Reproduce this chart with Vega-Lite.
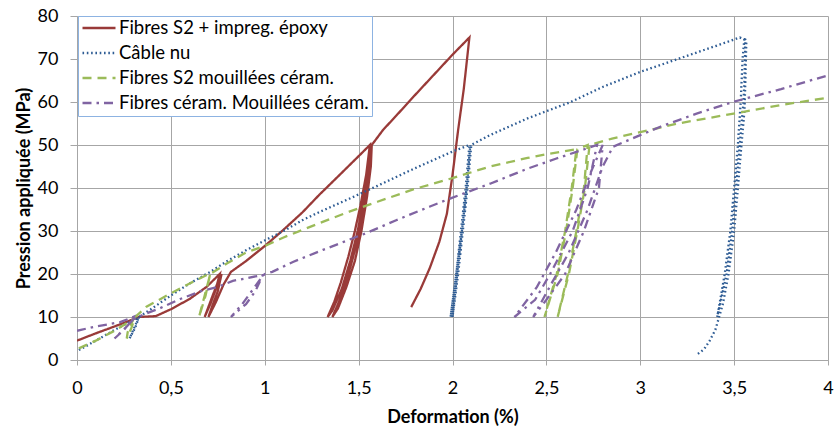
{
  "$schema": "https://vega.github.io/schema/vega-lite/v6.json",
  "width": 751,
  "height": 344,
  "autosize": {"type": "none"},
  "padding": {"left": 77, "top": 16, "right": 7, "bottom": 68},
  "background": "white",
  "config": {
    "font": "Lato",
    "view": {"stroke": null},
    "axis": {
      "labelFont": "Lato",
      "labelFontSize": 18,
      "labelColor": "#000000",
      "titleFont": "Lato",
      "titleFontSize": 18,
      "titleFontWeight": "bold",
      "titleColor": "#000000",
      "gridColor": "#a6a6a6",
      "gridWidth": 1,
      "domainColor": "#a6a6a6",
      "tickColor": "#a6a6a6"
    }
  },
  "data": {
    "values": [
      {"s":"Fibres S2 + impreg. époxy","i":1,"x":0,"y":4.5},
      {"s":"Fibres S2 + impreg. époxy","i":2,"x":0.1,"y":6.2},
      {"s":"Fibres S2 + impreg. époxy","i":3,"x":0.2,"y":7.8},
      {"s":"Fibres S2 + impreg. époxy","i":4,"x":0.33,"y":10},
      {"s":"Fibres S2 + impreg. époxy","i":5,"x":0.42,"y":10.2},
      {"s":"Fibres S2 + impreg. époxy","i":6,"x":0.5,"y":11.8},
      {"s":"Fibres S2 + impreg. époxy","i":7,"x":0.6,"y":14.2},
      {"s":"Fibres S2 + impreg. époxy","i":8,"x":0.69,"y":17},
      {"s":"Fibres S2 + impreg. époxy","i":9,"x":0.76,"y":20},
      {"s":"Fibres S2 + impreg. époxy","i":10,"x":0.74,"y":16.5},
      {"s":"Fibres S2 + impreg. époxy","i":11,"x":0.71,"y":13},
      {"s":"Fibres S2 + impreg. époxy","i":12,"x":0.68,"y":10},
      {"s":"Fibres S2 + impreg. époxy","i":13,"x":0.71,"y":13.5},
      {"s":"Fibres S2 + impreg. époxy","i":14,"x":0.74,"y":17},
      {"s":"Fibres S2 + impreg. époxy","i":15,"x":0.77,"y":20},
      {"s":"Fibres S2 + impreg. époxy","i":16,"x":0.75,"y":16},
      {"s":"Fibres S2 + impreg. époxy","i":17,"x":0.72,"y":12.5},
      {"s":"Fibres S2 + impreg. époxy","i":18,"x":0.7,"y":10},
      {"s":"Fibres S2 + impreg. époxy","i":19,"x":0.74,"y":13.5},
      {"s":"Fibres S2 + impreg. époxy","i":20,"x":0.78,"y":17.5},
      {"s":"Fibres S2 + impreg. époxy","i":21,"x":0.82,"y":20.5},
      {"s":"Fibres S2 + impreg. époxy","i":22,"x":0.9,"y":23},
      {"s":"Fibres S2 + impreg. époxy","i":23,"x":1.0,"y":26.5},
      {"s":"Fibres S2 + impreg. époxy","i":24,"x":1.1,"y":30.3},
      {"s":"Fibres S2 + impreg. époxy","i":25,"x":1.2,"y":34.3},
      {"s":"Fibres S2 + impreg. époxy","i":26,"x":1.29,"y":38.4},
      {"s":"Fibres S2 + impreg. époxy","i":27,"x":1.4,"y":43.1},
      {"s":"Fibres S2 + impreg. époxy","i":28,"x":1.5,"y":47.4},
      {"s":"Fibres S2 + impreg. époxy","i":29,"x":1.56,"y":50},
      {"s":"Fibres S2 + impreg. époxy","i":30,"x":1.54,"y":43},
      {"s":"Fibres S2 + impreg. époxy","i":31,"x":1.51,"y":36},
      {"s":"Fibres S2 + impreg. époxy","i":32,"x":1.48,"y":30},
      {"s":"Fibres S2 + impreg. époxy","i":33,"x":1.445,"y":24},
      {"s":"Fibres S2 + impreg. époxy","i":34,"x":1.405,"y":18},
      {"s":"Fibres S2 + impreg. époxy","i":35,"x":1.37,"y":13.5},
      {"s":"Fibres S2 + impreg. époxy","i":36,"x":1.335,"y":10},
      {"s":"Fibres S2 + impreg. époxy","i":37,"x":1.36,"y":11.5},
      {"s":"Fibres S2 + impreg. époxy","i":38,"x":1.41,"y":16.5},
      {"s":"Fibres S2 + impreg. époxy","i":39,"x":1.455,"y":23},
      {"s":"Fibres S2 + impreg. époxy","i":40,"x":1.495,"y":30},
      {"s":"Fibres S2 + impreg. époxy","i":41,"x":1.53,"y":38},
      {"s":"Fibres S2 + impreg. époxy","i":42,"x":1.555,"y":45},
      {"s":"Fibres S2 + impreg. époxy","i":43,"x":1.565,"y":50},
      {"s":"Fibres S2 + impreg. époxy","i":44,"x":1.555,"y":43},
      {"s":"Fibres S2 + impreg. époxy","i":45,"x":1.53,"y":36},
      {"s":"Fibres S2 + impreg. époxy","i":46,"x":1.5,"y":29},
      {"s":"Fibres S2 + impreg. époxy","i":47,"x":1.465,"y":23},
      {"s":"Fibres S2 + impreg. époxy","i":48,"x":1.425,"y":17},
      {"s":"Fibres S2 + impreg. époxy","i":49,"x":1.39,"y":13},
      {"s":"Fibres S2 + impreg. époxy","i":50,"x":1.36,"y":10},
      {"s":"Fibres S2 + impreg. époxy","i":51,"x":1.39,"y":12},
      {"s":"Fibres S2 + impreg. époxy","i":52,"x":1.435,"y":17},
      {"s":"Fibres S2 + impreg. époxy","i":53,"x":1.48,"y":23},
      {"s":"Fibres S2 + impreg. époxy","i":54,"x":1.515,"y":30},
      {"s":"Fibres S2 + impreg. époxy","i":55,"x":1.545,"y":38},
      {"s":"Fibres S2 + impreg. époxy","i":56,"x":1.565,"y":45},
      {"s":"Fibres S2 + impreg. époxy","i":57,"x":1.57,"y":50},
      {"s":"Fibres S2 + impreg. époxy","i":58,"x":1.63,"y":53.5},
      {"s":"Fibres S2 + impreg. époxy","i":59,"x":1.7,"y":56.8},
      {"s":"Fibres S2 + impreg. époxy","i":60,"x":1.8,"y":61.6},
      {"s":"Fibres S2 + impreg. époxy","i":61,"x":1.9,"y":66.3},
      {"s":"Fibres S2 + impreg. époxy","i":62,"x":2.0,"y":71},
      {"s":"Fibres S2 + impreg. époxy","i":63,"x":2.09,"y":75},
      {"s":"Fibres S2 + impreg. époxy","i":64,"x":2.075,"y":69},
      {"s":"Fibres S2 + impreg. époxy","i":65,"x":2.06,"y":63},
      {"s":"Fibres S2 + impreg. époxy","i":66,"x":2.03,"y":53.5},
      {"s":"Fibres S2 + impreg. époxy","i":67,"x":2.0,"y":43},
      {"s":"Fibres S2 + impreg. époxy","i":68,"x":1.97,"y":34},
      {"s":"Fibres S2 + impreg. époxy","i":69,"x":1.93,"y":27.5},
      {"s":"Fibres S2 + impreg. époxy","i":70,"x":1.88,"y":21.5},
      {"s":"Fibres S2 + impreg. époxy","i":71,"x":1.83,"y":16.5},
      {"s":"Fibres S2 + impreg. époxy","i":72,"x":1.78,"y":12.3},

      {"s":"Câble nu","i":1,"x":0.01,"y":2.3},
      {"s":"Câble nu","i":2,"x":0.1,"y":4.5},
      {"s":"Câble nu","i":3,"x":0.2,"y":7},
      {"s":"Câble nu","i":4,"x":0.33,"y":10},
      {"s":"Câble nu","i":5,"x":0.31,"y":7.5},
      {"s":"Câble nu","i":6,"x":0.28,"y":5},
      {"s":"Câble nu","i":7,"x":0.3,"y":7},
      {"s":"Câble nu","i":8,"x":0.33,"y":10},
      {"s":"Câble nu","i":9,"x":0.4,"y":12},
      {"s":"Câble nu","i":10,"x":0.5,"y":15},
      {"s":"Câble nu","i":11,"x":0.6,"y":17.8},
      {"s":"Câble nu","i":12,"x":0.71,"y":20.5},
      {"s":"Câble nu","i":13,"x":0.8,"y":23},
      {"s":"Câble nu","i":14,"x":0.9,"y":25.5},
      {"s":"Câble nu","i":15,"x":1.0,"y":27.8},
      {"s":"Câble nu","i":16,"x":1.1,"y":30},
      {"s":"Câble nu","i":17,"x":1.2,"y":32.5},
      {"s":"Câble nu","i":18,"x":1.3,"y":34.6},
      {"s":"Câble nu","i":19,"x":1.45,"y":37.5},
      {"s":"Câble nu","i":20,"x":1.6,"y":40.5},
      {"s":"Câble nu","i":21,"x":1.8,"y":44.6},
      {"s":"Câble nu","i":22,"x":1.99,"y":48.3},
      {"s":"Câble nu","i":23,"x":2.09,"y":50},
      {"s":"Câble nu","i":24,"x":2.07,"y":40},
      {"s":"Câble nu","i":25,"x":2.045,"y":30},
      {"s":"Câble nu","i":26,"x":2.02,"y":20},
      {"s":"Câble nu","i":27,"x":1.99,"y":10},
      {"s":"Câble nu","i":28,"x":2.02,"y":20},
      {"s":"Câble nu","i":29,"x":2.05,"y":30},
      {"s":"Câble nu","i":30,"x":2.075,"y":40},
      {"s":"Câble nu","i":31,"x":2.095,"y":50},
      {"s":"Câble nu","i":32,"x":2.075,"y":40},
      {"s":"Câble nu","i":33,"x":2.05,"y":30},
      {"s":"Câble nu","i":34,"x":2.025,"y":20},
      {"s":"Câble nu","i":35,"x":2.0,"y":10},
      {"s":"Câble nu","i":36,"x":2.03,"y":20},
      {"s":"Câble nu","i":37,"x":2.055,"y":30},
      {"s":"Câble nu","i":38,"x":2.08,"y":40},
      {"s":"Câble nu","i":39,"x":2.1,"y":50},
      {"s":"Câble nu","i":40,"x":2.2,"y":52.3},
      {"s":"Câble nu","i":41,"x":2.4,"y":56.2},
      {"s":"Câble nu","i":42,"x":2.63,"y":60},
      {"s":"Câble nu","i":43,"x":2.8,"y":63.5},
      {"s":"Câble nu","i":44,"x":3.0,"y":67},
      {"s":"Câble nu","i":45,"x":3.2,"y":70},
      {"s":"Câble nu","i":46,"x":3.4,"y":73},
      {"s":"Câble nu","i":47,"x":3.53,"y":75},
      {"s":"Câble nu","i":48,"x":3.56,"y":74.5},
      {"s":"Câble nu","i":49,"x":3.555,"y":65},
      {"s":"Câble nu","i":50,"x":3.55,"y":60},
      {"s":"Câble nu","i":51,"x":3.53,"y":50},
      {"s":"Câble nu","i":52,"x":3.51,"y":40},
      {"s":"Câble nu","i":53,"x":3.49,"y":30},
      {"s":"Câble nu","i":54,"x":3.46,"y":20},
      {"s":"Câble nu","i":55,"x":3.43,"y":14},
      {"s":"Câble nu","i":56,"x":3.41,"y":10},
      {"s":"Câble nu","i":57,"x":3.43,"y":15},
      {"s":"Câble nu","i":58,"x":3.45,"y":20},
      {"s":"Câble nu","i":59,"x":3.48,"y":30},
      {"s":"Câble nu","i":60,"x":3.5,"y":40},
      {"s":"Câble nu","i":61,"x":3.52,"y":50},
      {"s":"Câble nu","i":62,"x":3.535,"y":60},
      {"s":"Câble nu","i":63,"x":3.545,"y":70},
      {"s":"Câble nu","i":64,"x":3.555,"y":75},
      {"s":"Câble nu","i":65,"x":3.565,"y":74},
      {"s":"Câble nu","i":66,"x":3.56,"y":65},
      {"s":"Câble nu","i":67,"x":3.555,"y":58},
      {"s":"Câble nu","i":68,"x":3.535,"y":48},
      {"s":"Câble nu","i":69,"x":3.52,"y":40},
      {"s":"Câble nu","i":70,"x":3.5,"y":30},
      {"s":"Câble nu","i":71,"x":3.47,"y":20},
      {"s":"Câble nu","i":72,"x":3.44,"y":13},
      {"s":"Câble nu","i":73,"x":3.42,"y":10},
      {"s":"Câble nu","i":74,"x":3.4,"y":7},
      {"s":"Câble nu","i":75,"x":3.37,"y":4.5},
      {"s":"Câble nu","i":76,"x":3.34,"y":2.5},
      {"s":"Câble nu","i":77,"x":3.3,"y":1.2},

      {"s":"Fibres S2 mouillées céram.","i":1,"x":0.01,"y":2.7},
      {"s":"Fibres S2 mouillées céram.","i":2,"x":0.1,"y":4.5},
      {"s":"Fibres S2 mouillées céram.","i":3,"x":0.2,"y":6.8},
      {"s":"Fibres S2 mouillées céram.","i":4,"x":0.3,"y":9.5},
      {"s":"Fibres S2 mouillées céram.","i":5,"x":0.27,"y":6.5},
      {"s":"Fibres S2 mouillées céram.","i":6,"x":0.265,"y":5},
      {"s":"Fibres S2 mouillées céram.","i":7,"x":0.29,"y":7.5},
      {"s":"Fibres S2 mouillées céram.","i":8,"x":0.31,"y":10},
      {"s":"Fibres S2 mouillées céram.","i":9,"x":0.37,"y":12.4},
      {"s":"Fibres S2 mouillées céram.","i":10,"x":0.5,"y":15.5},
      {"s":"Fibres S2 mouillées céram.","i":11,"x":0.6,"y":17.8},
      {"s":"Fibres S2 mouillées céram.","i":12,"x":0.71,"y":20.2},
      {"s":"Fibres S2 mouillées céram.","i":13,"x":0.685,"y":15},
      {"s":"Fibres S2 mouillées céram.","i":14,"x":0.65,"y":10},
      {"s":"Fibres S2 mouillées céram.","i":15,"x":0.68,"y":15},
      {"s":"Fibres S2 mouillées céram.","i":16,"x":0.71,"y":20},
      {"s":"Fibres S2 mouillées céram.","i":17,"x":0.8,"y":22.5},
      {"s":"Fibres S2 mouillées céram.","i":18,"x":0.9,"y":25},
      {"s":"Fibres S2 mouillées céram.","i":19,"x":1.01,"y":26.7},
      {"s":"Fibres S2 mouillées céram.","i":20,"x":1.1,"y":28.5},
      {"s":"Fibres S2 mouillées céram.","i":21,"x":1.29,"y":31.8},
      {"s":"Fibres S2 mouillées céram.","i":22,"x":1.45,"y":34.5},
      {"s":"Fibres S2 mouillées céram.","i":23,"x":1.6,"y":36.8},
      {"s":"Fibres S2 mouillées céram.","i":24,"x":1.8,"y":39.8},
      {"s":"Fibres S2 mouillées céram.","i":25,"x":2.0,"y":42.3},
      {"s":"Fibres S2 mouillées céram.","i":26,"x":2.2,"y":45},
      {"s":"Fibres S2 mouillées céram.","i":27,"x":2.4,"y":47},
      {"s":"Fibres S2 mouillées céram.","i":28,"x":2.52,"y":48},
      {"s":"Fibres S2 mouillées céram.","i":29,"x":2.66,"y":49},
      {"s":"Fibres S2 mouillées céram.","i":30,"x":2.635,"y":40},
      {"s":"Fibres S2 mouillées céram.","i":31,"x":2.6,"y":30},
      {"s":"Fibres S2 mouillées céram.","i":32,"x":2.555,"y":20},
      {"s":"Fibres S2 mouillées céram.","i":33,"x":2.49,"y":10},
      {"s":"Fibres S2 mouillées céram.","i":34,"x":2.56,"y":20},
      {"s":"Fibres S2 mouillées céram.","i":35,"x":2.605,"y":30},
      {"s":"Fibres S2 mouillées céram.","i":36,"x":2.64,"y":40},
      {"s":"Fibres S2 mouillées céram.","i":37,"x":2.665,"y":49},
      {"s":"Fibres S2 mouillées céram.","i":38,"x":2.72,"y":50},
      {"s":"Fibres S2 mouillées céram.","i":39,"x":2.7,"y":40},
      {"s":"Fibres S2 mouillées céram.","i":40,"x":2.66,"y":30},
      {"s":"Fibres S2 mouillées céram.","i":41,"x":2.615,"y":20},
      {"s":"Fibres S2 mouillées céram.","i":42,"x":2.56,"y":10},
      {"s":"Fibres S2 mouillées céram.","i":43,"x":2.62,"y":20},
      {"s":"Fibres S2 mouillées céram.","i":44,"x":2.665,"y":30},
      {"s":"Fibres S2 mouillées céram.","i":45,"x":2.705,"y":40},
      {"s":"Fibres S2 mouillées céram.","i":46,"x":2.73,"y":50},
      {"s":"Fibres S2 mouillées céram.","i":47,"x":2.85,"y":51.5},
      {"s":"Fibres S2 mouillées céram.","i":48,"x":2.97,"y":52.7},
      {"s":"Fibres S2 mouillées céram.","i":49,"x":3.2,"y":55},
      {"s":"Fibres S2 mouillées céram.","i":50,"x":3.51,"y":57.4},
      {"s":"Fibres S2 mouillées céram.","i":51,"x":3.75,"y":59.3},
      {"s":"Fibres S2 mouillées céram.","i":52,"x":4.0,"y":61},

      {"s":"Fibres céram. Mouillées céram.","i":1,"x":0,"y":6.8},
      {"s":"Fibres céram. Mouillées céram.","i":2,"x":0.1,"y":7.8},
      {"s":"Fibres céram. Mouillées céram.","i":3,"x":0.23,"y":8.8},
      {"s":"Fibres céram. Mouillées céram.","i":4,"x":0.3,"y":10},
      {"s":"Fibres céram. Mouillées céram.","i":5,"x":0.27,"y":8},
      {"s":"Fibres céram. Mouillées céram.","i":6,"x":0.2,"y":5},
      {"s":"Fibres céram. Mouillées céram.","i":7,"x":0.25,"y":7},
      {"s":"Fibres céram. Mouillées céram.","i":8,"x":0.3,"y":9.5},
      {"s":"Fibres céram. Mouillées céram.","i":9,"x":0.35,"y":10.5},
      {"s":"Fibres céram. Mouillées céram.","i":10,"x":0.44,"y":12},
      {"s":"Fibres céram. Mouillées céram.","i":11,"x":0.55,"y":14.2},
      {"s":"Fibres céram. Mouillées céram.","i":12,"x":0.66,"y":16},
      {"s":"Fibres céram. Mouillées céram.","i":13,"x":0.75,"y":17},
      {"s":"Fibres céram. Mouillées céram.","i":14,"x":0.83,"y":18.4},
      {"s":"Fibres céram. Mouillées céram.","i":15,"x":0.9,"y":19},
      {"s":"Fibres céram. Mouillées céram.","i":16,"x":0.99,"y":19.8},
      {"s":"Fibres céram. Mouillées céram.","i":17,"x":0.95,"y":16},
      {"s":"Fibres céram. Mouillées céram.","i":18,"x":0.9,"y":13},
      {"s":"Fibres céram. Mouillées céram.","i":19,"x":0.82,"y":10},
      {"s":"Fibres céram. Mouillées céram.","i":20,"x":0.88,"y":13},
      {"s":"Fibres céram. Mouillées céram.","i":21,"x":0.93,"y":16},
      {"s":"Fibres céram. Mouillées céram.","i":22,"x":0.98,"y":19},
      {"s":"Fibres céram. Mouillées céram.","i":23,"x":1.0,"y":20},
      {"s":"Fibres céram. Mouillées céram.","i":24,"x":1.04,"y":20.5},
      {"s":"Fibres céram. Mouillées céram.","i":25,"x":1.15,"y":22.8},
      {"s":"Fibres céram. Mouillées céram.","i":26,"x":1.31,"y":25.6},
      {"s":"Fibres céram. Mouillées céram.","i":27,"x":1.54,"y":29.5},
      {"s":"Fibres céram. Mouillées céram.","i":28,"x":1.7,"y":32.5},
      {"s":"Fibres céram. Mouillées céram.","i":29,"x":1.88,"y":35.7},
      {"s":"Fibres céram. Mouillées céram.","i":30,"x":1.99,"y":37.6},
      {"s":"Fibres céram. Mouillées céram.","i":31,"x":2.2,"y":41},
      {"s":"Fibres céram. Mouillées céram.","i":32,"x":2.4,"y":44.5},
      {"s":"Fibres céram. Mouillées céram.","i":33,"x":2.55,"y":46.8},
      {"s":"Fibres céram. Mouillées céram.","i":34,"x":2.66,"y":48.4},
      {"s":"Fibres céram. Mouillées céram.","i":35,"x":2.77,"y":50},
      {"s":"Fibres céram. Mouillées céram.","i":36,"x":2.72,"y":40},
      {"s":"Fibres céram. Mouillées céram.","i":37,"x":2.64,"y":30},
      {"s":"Fibres céram. Mouillées céram.","i":38,"x":2.52,"y":20},
      {"s":"Fibres céram. Mouillées céram.","i":39,"x":2.44,"y":14},
      {"s":"Fibres céram. Mouillées céram.","i":40,"x":2.33,"y":10},
      {"s":"Fibres céram. Mouillées céram.","i":41,"x":2.45,"y":17},
      {"s":"Fibres céram. Mouillées céram.","i":42,"x":2.55,"y":25},
      {"s":"Fibres céram. Mouillées céram.","i":43,"x":2.66,"y":35},
      {"s":"Fibres céram. Mouillées céram.","i":44,"x":2.74,"y":44},
      {"s":"Fibres céram. Mouillées céram.","i":45,"x":2.8,"y":50},
      {"s":"Fibres céram. Mouillées céram.","i":46,"x":2.78,"y":40},
      {"s":"Fibres céram. Mouillées céram.","i":47,"x":2.7,"y":30},
      {"s":"Fibres céram. Mouillées céram.","i":48,"x":2.6,"y":20},
      {"s":"Fibres céram. Mouillées céram.","i":49,"x":2.5,"y":14},
      {"s":"Fibres céram. Mouillées céram.","i":50,"x":2.43,"y":10},
      {"s":"Fibres céram. Mouillées céram.","i":51,"x":2.53,"y":18},
      {"s":"Fibres céram. Mouillées céram.","i":52,"x":2.62,"y":25},
      {"s":"Fibres céram. Mouillées céram.","i":53,"x":2.72,"y":35},
      {"s":"Fibres céram. Mouillées céram.","i":54,"x":2.8,"y":45},
      {"s":"Fibres céram. Mouillées céram.","i":55,"x":2.855,"y":49.6},
      {"s":"Fibres céram. Mouillées céram.","i":56,"x":3.0,"y":52.3},
      {"s":"Fibres céram. Mouillées céram.","i":57,"x":3.11,"y":54.3},
      {"s":"Fibres céram. Mouillées céram.","i":58,"x":3.3,"y":57.3},
      {"s":"Fibres céram. Mouillées céram.","i":59,"x":3.5,"y":60.1},
      {"s":"Fibres céram. Mouillées céram.","i":60,"x":3.75,"y":63},
      {"s":"Fibres céram. Mouillées céram.","i":61,"x":4.0,"y":66.2}
    ]
  },
  "mark": {"type": "line", "strokeWidth": 2.3, "clip": true},
  "encoding": {
    "x": {
      "field": "x", "type": "quantitative",
      "scale": {"domain": [0, 4], "nice": false},
      "axis": {
        "title": "Deformation (%)",
        "values": [0, 0.5, 1, 1.5, 2, 2.5, 3, 3.5, 4],
        "labelExpr": "replace(format(datum.value, '~g'), '.', ',')",
        "tickSize": 5,
        "labelPadding": 14,
        "titlePadding": 11,
        "labelFlush": false,
        "grid": true
      }
    },
    "y": {
      "field": "y", "type": "quantitative",
      "scale": {"domain": [0, 80], "nice": false},
      "axis": {
        "title": "Pression appliquée (MPa)",
        "values": [0, 10, 20, 30, 40, 50, 60, 70, 80],
        "tickSize": 7,
        "labelPadding": 12,
        "titlePadding": 4,
        "grid": true
      }
    },
    "order": {"field": "i", "type": "quantitative"},
    "color": {
      "field": "s", "type": "nominal",
      "scale": {
        "domain": ["Fibres S2 + impreg. époxy", "Câble nu", "Fibres S2 mouillées céram.", "Fibres céram. Mouillées céram."],
        "range": ["#993a38", "#2e5c94", "#9bbb59", "#8064a2"]
      },
      "legend": {
        "title": null,
        "orient": "none",
        "legendX": 1,
        "legendY": 0,
        "direction": "vertical",
        "symbolType": "stroke",
        "symbolSize": 1089,
        "symbolStrokeWidth": 2.5,
        "clipHeight": 18,
        "labelFont": "Lato",
        "labelFontSize": 18.5,
        "labelColor": "#000000",
        "labelOffset": 2,
        "labelLimit": 400,
        "rowPadding": 6,
        "padding": 3,
        "strokeColor": "#8db3e2",
        "fillColor": "white"
      }
    },
    "strokeDash": {
      "field": "s", "type": "nominal",
      "scale": {
        "domain": ["Fibres S2 + impreg. époxy", "Câble nu", "Fibres S2 mouillées céram.", "Fibres céram. Mouillées céram."],
        "range": [[1, 0], [1.6, 2.7], [9, 6], [9, 5, 2.5, 5]]
      },
      "legend": null
    }
  }
}
